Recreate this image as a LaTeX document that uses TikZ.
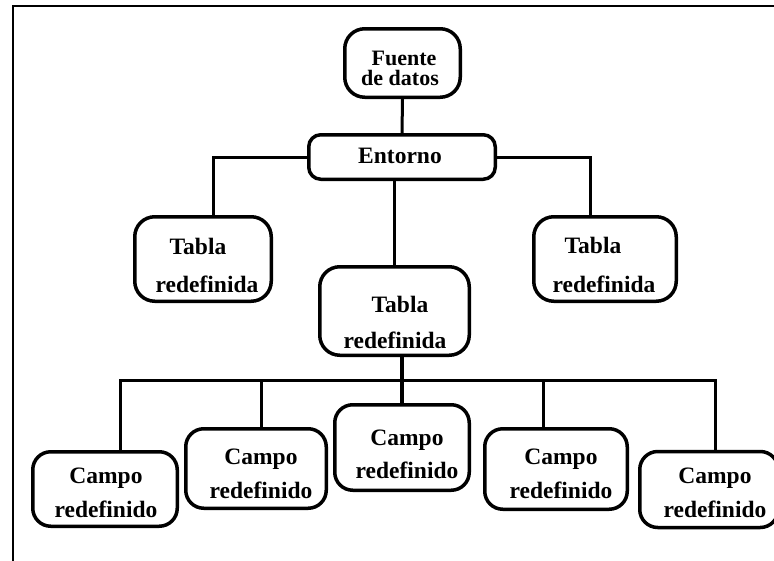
\documentclass[tikz,border=0pt]{standalone}
\usepackage{fontspec}
\setmainfont{Liberation Serif}
\begin{document}
\begin{tikzpicture}[x=1pt,y=-1pt]
\tikzset{
  box/.style={draw, line width=3.5pt, rounded corners=#1, inner sep=0pt},
  box/.default=18pt,
  lbl/.style={font=\fontsize{23.5}{23.5}\selectfont\bfseries, inner sep=0pt, anchor=base},
  small lbl/.style={lbl, font=\fontsize{22}{22}\selectfont\bfseries},
  wire/.style={line width=3pt, line join=miter},
  stem/.style={line width=4.5pt},
  frame/.style={line width=2.5pt},
}
\useasboundingbox (0,0) rectangle (774,560);

% outer frame (top and left edges)
\draw[frame] (13,570) -- (13,6) -- (790,6);

% boxes
\node[box=20pt, minimum width=115.5pt, minimum height=68.5pt] (fu) at (402.5,63) {};
\node[box=12pt, minimum width=186.5pt, minimum height=44.5pt] (ent) at (402,157) {};
\node[box=20pt, minimum width=136.5pt, minimum height=84.5pt] (tl) at (203,259) {};
\node[box=20pt, minimum width=142.5pt, minimum height=84.5pt] (tr) at (605,259) {};
\node[box=20pt, minimum width=149.5pt, minimum height=88.5pt] (tc) at (394.5,311) {};
\node[box, minimum width=144.5pt, minimum height=74.5pt] (c1) at (105,489) {};
\node[box, minimum width=140.5pt, minimum height=79.5pt] (c2) at (256,468.5) {};
\node[box, minimum width=134.5pt, minimum height=85.5pt] (c3) at (402,447.5) {};
\node[box, minimum width=142.5pt, minimum height=80.5pt] (c4) at (556,469) {};
\node[box, minimum width=138.5pt, minimum height=76pt] (c5) at (709,489.5) {};

% labels
\node[small lbl] (fuA) at (404,65) {Fuente};
\node[small lbl] (fuB) at (400,85) {de datos};
\node[lbl] (entA) at (400,163) {Entorno};
\node[lbl] (tlA) at (198,254) {Tabla};
\node[lbl] (tlB) at (207,292) {redefinida};
\node[lbl] (trA) at (593,253) {Tabla};
\node[lbl] (trB) at (604,292) {redefinida};
\node[lbl] (tcA) at (400,312) {Tabla};
\node[lbl] (tcB) at (395,348) {redefinida};
\node[lbl] (c1A) at (106,483) {Campo};
\node[lbl] (c1B) at (106,517) {redefinido};
\node[lbl] (c2A) at (261,464) {Campo};
\node[lbl] (c2B) at (261,498) {redefinido};
\node[lbl] (c3A) at (407,445) {Campo};
\node[lbl] (c3B) at (407,478) {redefinido};
\node[lbl] (c4A) at (561,464) {Campo};
\node[lbl] (c4B) at (561,498) {redefinido};
\node[lbl] (c5A) at (715,483) {Campo};
\node[lbl] (c5B) at (715,517) {redefinido};

% junction points
\coordinate (jl) at (213,157);
\coordinate (jr) at (590,157);
\coordinate (b0) at (402,380);
\coordinate (b1) at (120,380);
\coordinate (b2) at (261,380);
\coordinate (b4) at (543,380);
\coordinate (b5) at (715,380);

% connectors
\draw[wire] (fu.south) -- (ent.north);
\draw[wire] (ent.west) -- (jl) -- (jl |- tl.north);
\draw[wire] (ent.east) -- (jr) -- (jr |- tr.north);
\draw[wire] (ent.south -| tc.north) -- (tc.north);
\draw[stem] (tc.south -| b0) -- (b0);
\draw[wire] (b1 |- c1.north) -- (b1) -- (b5) -- (b5 |- c5.north);
\draw[wire] (b2) -- (b2 |- c2.north);
\draw[wire] (b4) -- (b4 |- c4.north);
\draw[line width=4pt] (b0) -- (c3.north);
\end{tikzpicture}
\end{document}
